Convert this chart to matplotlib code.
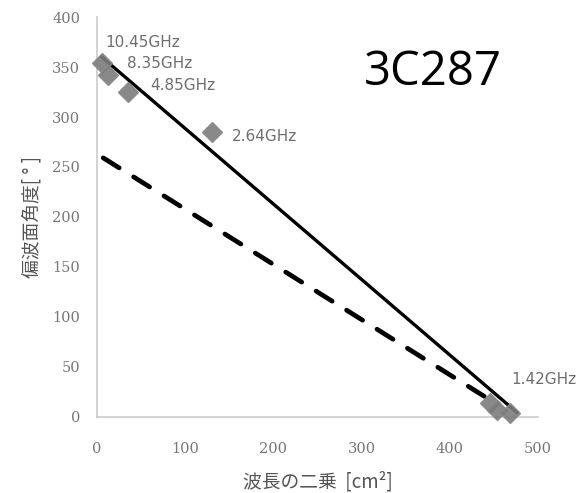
import matplotlib.pyplot as plt
import numpy as np

# data
lam2 = [5.7, 12.5, 35, 130, 446, 453, 468]          # wavelength^2 [cm^2]
angle = [354, 342, 325, 285, 14, 7, 4]              # polarization angle [deg]

freq_labels = ["10.45GHz", "8.35GHz", "4.85GHz", "2.64GHz", "1.42GHz"]
label_x = [9, 34, 60, 153, 470]
label_y = [375, 354, 332, 280, 37]

# fitted lines (intercept, slope) and their x-range
solid_fit = (364, -0.755)
solid_x = [5, 476]
dash_fit = (263, -0.552)
dash_x = [7, 455]

fig = plt.figure(figsize=(5.83, 4.93), dpi=100)
ax = fig.add_axes([0.1664, 0.1542, 0.7564, 0.8113])

xs = np.array(solid_x)
ax.plot(xs, solid_fit[0] + solid_fit[1] * xs, color="black", lw=2.4, zorder=3)
xd = np.array(dash_x)
ax.plot(xd, dash_fit[0] + dash_fit[1] * xd, color="black", lw=3.4,
        dashes=(4.0, 3.6), dash_capstyle="round", zorder=3)

ax.plot(lam2, angle, "D", color="#7c7c7c", markersize=10, mec="#888888",
        clip_on=False, zorder=4, alpha=0.9)

for t, x, y in zip(freq_labels, label_x, label_y):
    ax.text(x, y, t, fontsize=11, color="#6e6e6e", va="center", ha="left",
            family="DejaVu Sans")

ax.set_xlim(0, 500)
ax.set_ylim(0, 400)
ax.set_xticks(range(0, 501, 100))
ax.set_yticks(range(0, 401, 50))
ax.tick_params(length=0, labelsize=10.5, colors="#777777")
ax.tick_params(axis="y", pad=12)
ax.tick_params(axis="x", pad=18)
for lab in ax.get_xticklabels() + ax.get_yticklabels():
    lab.set_family("DejaVu Serif")

for s in ["top", "right"]:
    ax.spines[s].set_visible(False)
for s in ["left", "bottom"]:
    ax.spines[s].set_color("#cccccc")
    ax.spines[s].set_linewidth(1.2)

ax.set_xlabel("波長の二乗  [cm²]", family=["Noto Sans CJK JP", "DejaVu Sans"],
              fontsize=13.5, color="#555555", labelpad=11)
ax.set_ylabel("偏波面角度[ ° ]", family=["Noto Sans CJK JP", "DejaVu Sans"],
              fontsize=13.5, color="#555555", labelpad=7)

fig.text(433 / 583, 1 - 72 / 493, "3C287", family="Open Sans", fontsize=34,
         color="black", ha="center", va="center")

fig.savefig("out.png", dpi=100)
